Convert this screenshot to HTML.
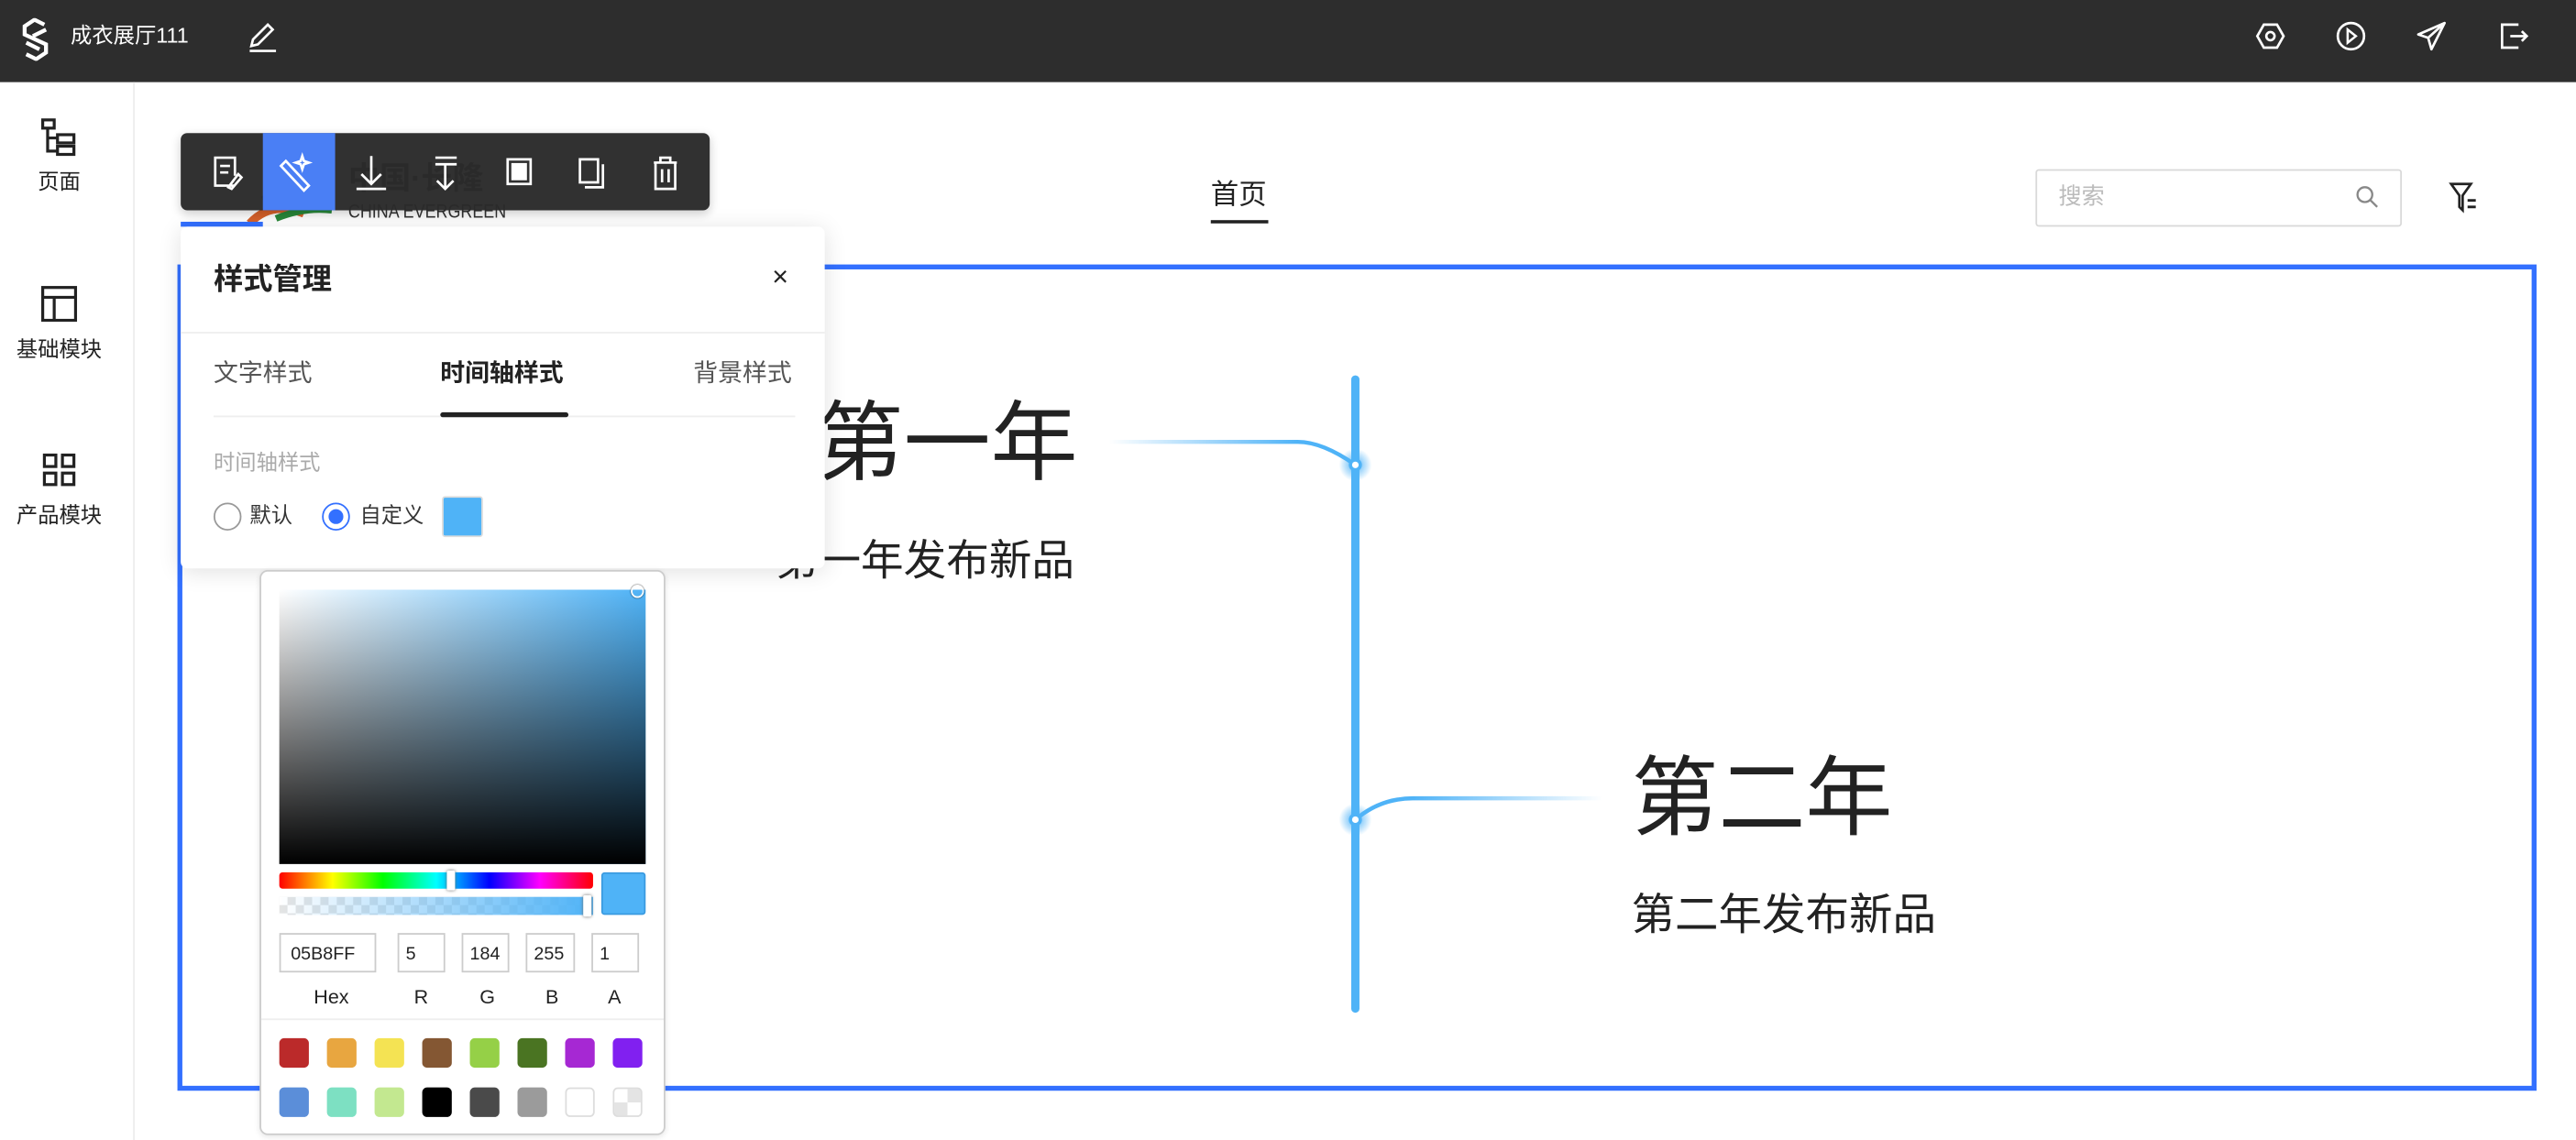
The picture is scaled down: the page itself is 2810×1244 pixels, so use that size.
<!DOCTYPE html>
<html><head><meta charset="utf-8">
<style>
*{box-sizing:border-box;margin:0;padding:0}
html,body{width:2810px;height:1244px;overflow:hidden;background:#fff}
#s{position:absolute;left:0;top:0;width:1568px;height:694px;transform:scale(1.79209,1.79251);transform-origin:0 0;font-family:"Liberation Sans","Noto Sans CJK SC",sans-serif;color:#222}
.a{position:absolute}
.t{position:absolute;white-space:nowrap;line-height:1}
.ic{position:absolute}
.sw{position:absolute;width:18px;height:18px;border-radius:3px}
.inp{position:absolute;top:568px;height:24px;border:1px solid #ccc;font-size:11px;padding:6px 0 0 4px;color:#222}
.lb{position:absolute;top:600px;font-size:12px;color:#222}
</style></head><body><div id="s">
<!-- top bar -->
<div class="a" style="left:0;top:0;width:1568px;height:50px;background:#2d2d2d"></div>
<svg class="ic" style="left:12px;top:11px" width="20" height="26" viewBox="0 0 20 26"><path d="M15 4 L9 1 L3 5 L3 10 L16 16 L16 21 L10 25 L4 22 M8 11 L16 7 M4 15 L12 19" stroke="#fff" stroke-width="2.4" fill="none"/></svg>
<div class="t" style="left:43px;top:15px;font-size:13px;color:#fff">成衣展厅111</div>
<svg class="ic" style="left:150px;top:13px" width="20" height="20" viewBox="0 0 20 20"><path d="M3 15 L4 11 L13 2 L16 5 L7 14 Z M2 18 H18" stroke="#fff" stroke-width="1.5" fill="none"/></svg>
<svg class="ic" style="left:1372px;top:12px" width="20" height="20" viewBox="0 0 20 20"><path d="M6 3 H14 L18 10 L14 17 H6 L2 10 Z" stroke="#fff" stroke-width="1.5" fill="none"/><circle cx="10" cy="10" r="2.5" stroke="#fff" stroke-width="1.5" fill="none"/></svg>
<svg class="ic" style="left:1421px;top:12px" width="20" height="20" viewBox="0 0 20 20"><circle cx="10" cy="10" r="8" stroke="#fff" stroke-width="1.5" fill="none"/><path d="M8 6 L13 10 L8 14 Z" stroke="#fff" stroke-width="1.4" fill="none"/></svg>
<svg class="ic" style="left:1470px;top:12px" width="20" height="20" viewBox="0 0 20 20"><path d="M18 2 L2 9 L8 11 L10 18 Z M8 11 L18 2" stroke="#fff" stroke-width="1.5" fill="none" stroke-linejoin="round"/></svg>
<svg class="ic" style="left:1520px;top:12px" width="20" height="20" viewBox="0 0 20 20"><path d="M13 3 H3 V17 H13 M8 10 H18 M15 7 L18 10 L15 13" stroke="#fff" stroke-width="1.5" fill="none"/></svg>
<!-- sidebar -->
<div class="a" style="left:81px;top:50px;width:1px;height:644px;background:#eee"></div>
<svg class="ic" style="left:25px;top:72px" width="22" height="24" viewBox="0 0 22 24"><rect x="1" y="1" width="7" height="5" stroke="#222" stroke-width="1.8" fill="none"/><rect x="10" y="10" width="10" height="5" stroke="#222" stroke-width="1.8" fill="none"/><rect x="10" y="17" width="10" height="5" stroke="#222" stroke-width="1.8" fill="none"/><path d="M4 6 V20 H10 M4 12 H10" stroke="#222" stroke-width="1.8" fill="none"/></svg>
<div class="t" style="left:23px;top:104px;font-size:13px">页面</div>
<svg class="ic" style="left:25px;top:174px" width="22" height="22" viewBox="0 0 22 22"><rect x="1" y="1" width="20" height="20" stroke="#222" stroke-width="1.8" fill="none"/><path d="M1 7 H21 M8 7 V21" stroke="#222" stroke-width="1.8"/></svg>
<div class="t" style="left:10px;top:206px;font-size:13px">基础模块</div>
<svg class="ic" style="left:26px;top:276px" width="20" height="20" viewBox="0 0 20 20"><rect x="1" y="1" width="7" height="7" stroke="#222" stroke-width="1.8" fill="none"/><rect x="12" y="1" width="7" height="7" stroke="#222" stroke-width="1.8" fill="none"/><rect x="1" y="12" width="7" height="7" stroke="#222" stroke-width="1.8" fill="none"/><rect x="12" y="12" width="7" height="7" stroke="#222" stroke-width="1.8" fill="none"/></svg>
<div class="t" style="left:10px;top:307px;font-size:13px">产品模块</div>
<!-- page header -->
<svg class="a" style="left:140px;top:100px" width="70" height="40" viewBox="0 0 70 40"><path d="M12 36 Q25 22 45 30" stroke="#d9622b" stroke-width="5" fill="none"/><path d="M28 33 Q45 26 62 28" stroke="#2a8a3a" stroke-width="4" fill="none"/><path d="M20 22 Q40 12 62 20" stroke="#3a5fb0" stroke-width="5" fill="none"/></svg>
<div class="t" style="left:212px;top:100px;font-size:19px;font-weight:bold;color:#333">中国·长隆</div>
<div class="t" style="left:212px;top:125px;font-size:10px;color:#333;transform:scaleY(1.2)">CHINA EVERGREEN</div>
<div class="t" style="left:737px;top:110px;font-size:17px;color:#222">首页</div>
<div class="a" style="left:737px;top:134px;width:35px;height:2px;background:#222"></div>
<div class="a" style="left:1239px;top:103px;width:223px;height:35px;border:1px solid #d9d9d9;border-radius:2px"></div>
<div class="t" style="left:1253px;top:112px;font-size:14px;color:#bbb">搜索</div>
<svg class="ic" style="left:1433px;top:112px" width="16" height="16" viewBox="0 0 16 16"><circle cx="6.5" cy="6.5" r="4.5" stroke="#888" stroke-width="1.3" fill="none"/><path d="M10 10 L14 14" stroke="#888" stroke-width="1.3"/></svg>
<svg class="ic" style="left:1490px;top:110px" width="20" height="20" viewBox="0 0 20 20"><path d="M2 2 H14 L9 9 V18 L7 16 V9 Z" stroke="#222" stroke-width="1.5" fill="none"/><path d="M12 12 H17 M12 16 H17" stroke="#222" stroke-width="1.6"/></svg>
<!-- blue box -->
<div class="a" style="left:108px;top:161px;width:1436px;height:503px;border:3px solid #3370ff"></div>
<div class="a" style="left:110px;top:135px;width:50px;height:3px;background:#3370ff"></div>
<!-- timeline -->
<svg class="a" style="left:0;top:0" width="1568" height="694">
<defs>
<linearGradient id="g1" x1="675" y1="0" x2="790" y2="0" gradientUnits="userSpaceOnUse"><stop offset="0" stop-color="#4fb3f7" stop-opacity="0"/><stop offset="1" stop-color="#4fb3f7"/></linearGradient>
<linearGradient id="g2" x1="975" y1="0" x2="860" y2="0" gradientUnits="userSpaceOnUse"><stop offset="0" stop-color="#4fb3f7" stop-opacity="0"/><stop offset="1" stop-color="#4fb3f7"/></linearGradient>
<radialGradient id="gl"><stop offset="0.3" stop-color="#4fb3f7" stop-opacity="0.7"/><stop offset="1" stop-color="#4fb3f7" stop-opacity="0"/></radialGradient>
</defs>
<path d="M675 269 H790 Q805 269 825 283" stroke="url(#g1)" stroke-width="2.5" fill="none"/>
<path d="M825 499 Q840 486 860 486 H975" stroke="url(#g2)" stroke-width="2.5" fill="none"/>
<line x1="825" y1="231" x2="825" y2="614" stroke="#4fb3f7" stroke-width="5" stroke-linecap="round"/>
<circle cx="825" cy="283" r="10" fill="url(#gl)"/><circle cx="825" cy="499" r="10" fill="url(#gl)"/>
<circle cx="825" cy="283" r="4" fill="#4fb3f7"/><circle cx="825" cy="283" r="2" fill="#fff"/>
<circle cx="825" cy="499" r="4" fill="#4fb3f7"/><circle cx="825" cy="499" r="2" fill="#fff"/>
</svg>
<div class="t" style="left:497px;top:244px;font-size:53px;color:#222">第一年</div>
<div class="t" style="left:472px;top:328px;font-size:26px;color:#222">第一年发布新品</div>
<div class="t" style="left:993px;top:460px;font-size:53px;color:#222">第二年</div>
<div class="t" style="left:993px;top:544px;font-size:26.5px;color:#222">第二年发布新品</div>
<!-- toolbar -->
<div class="a" style="left:110px;top:81px;width:322px;height:47px;background:rgba(42,42,42,0.97);border-radius:4px;box-shadow:0 2px 6px rgba(0,0,0,.2)"></div>
<div class="a" style="left:160px;top:81px;width:44px;height:47px;background:#4a7ff5"></div>
<svg class="a" style="left:110px;top:81px" width="322" height="47" viewBox="0 0 322 47" fill="none" stroke="#fff" stroke-width="1.5">
<path d="M33 32 H21 V15 H33 V26 M24 20 H30 M24 24 H29 M29 33 L35 25 L37 27 L31 34 Z"/>
<path d="M64 17 L78 32 L75 35 L61 20 Z M74 14 L75 17 L78 18 L75 19 L74 22 L73 19 L70 18 L73 17 Z"/>
<path d="M116 14 V31 M110 25 L116 31 L122 25 M107 34 H125"/>
<path d="M155 15 H168 M155 19 H168 M161 19 V34 M156 29 L161 34 L166 29"/>
<rect x="199" y="16" width="14" height="15"/><rect x="202" y="19" width="8" height="9" fill="#fff"/>
<path d="M243 16 H254 V30 H243 Z M246 33 H257 V19"/>
<path d="M288 18 H302 M292 18 V15 H298 V18 M289 18 V34 H301 V18 M293 22 V30 M297 22 V30"/>
</svg>
<!-- style panel -->
<div class="a" style="left:110px;top:138px;width:392px;height:208px;background:#fff;border-radius:4px;box-shadow:0 2px 14px rgba(0,0,0,.12)"></div>
<div class="t" style="left:130px;top:161px;font-size:18px;font-weight:bold;color:#222">样式管理</div>
<div class="t" style="left:470px;top:160px;font-size:17px;color:#222">×</div>
<div class="a" style="left:110px;top:202px;width:392px;height:1px;background:#eee"></div>
<div class="t" style="left:130px;top:220px;font-size:15px;color:#555">文字样式</div>
<div class="t" style="left:268px;top:220px;font-size:15px;font-weight:bold;color:#222">时间轴样式</div>
<div class="t" style="left:422px;top:220px;font-size:15px;color:#555">背景样式</div>
<div class="a" style="left:130px;top:253px;width:354px;height:1px;background:#eee"></div>
<div class="a" style="left:268px;top:251px;width:78px;height:3px;background:#222;border-radius:2px"></div>
<div class="t" style="left:130px;top:275px;font-size:13px;color:#aaa">时间轴样式</div>
<div class="a" style="left:130px;top:306px;width:17px;height:17px;border:1px solid #999;border-radius:50%"></div>
<div class="t" style="left:152px;top:307px;font-size:13px;color:#333">默认</div>
<div class="a" style="left:196px;top:306px;width:17px;height:17px;border:1px solid #3370ff;border-radius:50%"></div>
<div class="a" style="left:200px;top:310px;width:9px;height:9px;background:#3370ff;border-radius:50%"></div>
<div class="t" style="left:219px;top:307px;font-size:13px;color:#333">自定义</div>
<div class="a" style="left:269px;top:302px;width:25px;height:25px;background:#4fb3f7;border:1px solid #ddd;border-radius:2px"></div>
<!-- color picker -->
<div class="a" style="left:158px;top:347px;width:247px;height:344px;background:#fff;border:1px solid #ccc;border-radius:5px;box-shadow:0 1px 4px rgba(0,0,0,.1)"></div>
<div class="a" style="left:170px;top:359px;width:223px;height:167px;background:linear-gradient(to top,#000,rgba(0,0,0,0)),linear-gradient(to right,#fff,#4fb3f7)"></div>
<div class="a" style="left:384px;top:356px;width:8px;height:8px;border:1.5px solid #fff;border-radius:50%;box-shadow:0 0 1px #000"></div>
<div class="a" style="left:170px;top:531px;width:191px;height:10px;border-radius:2px;background:linear-gradient(to right,#f00,#ff0 17%,#0f0 33%,#0ff 50%,#00f 67%,#f0f 83%,#f00)"></div>
<div class="a" style="left:272px;top:530px;width:5px;height:12px;background:#fff;border-radius:1px;box-shadow:0 0 2px #666"></div>
<div class="a" style="left:170px;top:546px;width:191px;height:11px;background:linear-gradient(to right,rgba(79,179,247,0),#4fb3f7),repeating-conic-gradient(#e4e4e4 0 25%,#fff 0 50%) 0 0/10px 10px"></div>
<div class="a" style="left:355px;top:545px;width:5px;height:13px;background:#fff;border-radius:1px;box-shadow:0 0 2px #666"></div>
<div class="a" style="left:366px;top:531px;width:27px;height:26px;background:#4fb3f7;border:1px solid #3a9ae0;border-radius:2px"></div>
<div class="inp" style="left:170px;width:59px;padding-left:6px">05B8FF</div>
<div class="inp" style="left:242px;width:29px">5</div>
<div class="inp" style="left:281px;width:29px">184</div>
<div class="inp" style="left:320px;width:30px">255</div>
<div class="inp" style="left:360px;width:29px">1</div>
<div class="lb" style="left:191px">Hex</div><div class="lb" style="left:252px">R</div><div class="lb" style="left:292px">G</div><div class="lb" style="left:332px">B</div><div class="lb" style="left:370px">A</div>
<div class="a" style="left:159px;top:620px;width:245px;height:1px;background:#eee"></div>
<div class="sw" style="left:170px;top:632px;background:#bb2a2a"></div>
<div class="sw" style="left:199px;top:632px;background:#e8a640"></div>
<div class="sw" style="left:228px;top:632px;background:#f4e353"></div>
<div class="sw" style="left:257px;top:632px;background:#845733"></div>
<div class="sw" style="left:286px;top:632px;background:#95d047"></div>
<div class="sw" style="left:315px;top:632px;background:#4a7422"></div>
<div class="sw" style="left:344px;top:632px;background:#a628d3"></div>
<div class="sw" style="left:373px;top:632px;background:#8120f0"></div>
<div class="sw" style="left:170px;top:662px;background:#5b8ed9"></div>
<div class="sw" style="left:199px;top:662px;background:#7de0c2"></div>
<div class="sw" style="left:228px;top:662px;background:#c3e890"></div>
<div class="sw" style="left:257px;top:662px;background:#000"></div>
<div class="sw" style="left:286px;top:662px;background:#4a4a4a"></div>
<div class="sw" style="left:315px;top:662px;background:#9b9b9b"></div>
<div class="sw" style="left:344px;top:662px;background:#fff;border:1px solid #ddd"></div>
<div class="sw" style="left:373px;top:662px;border:1px solid #ddd;background:repeating-conic-gradient(#e4e4e4 0 25%,#fff 0 50%) 0 0/16px 16px"></div>
</div></body></html>
